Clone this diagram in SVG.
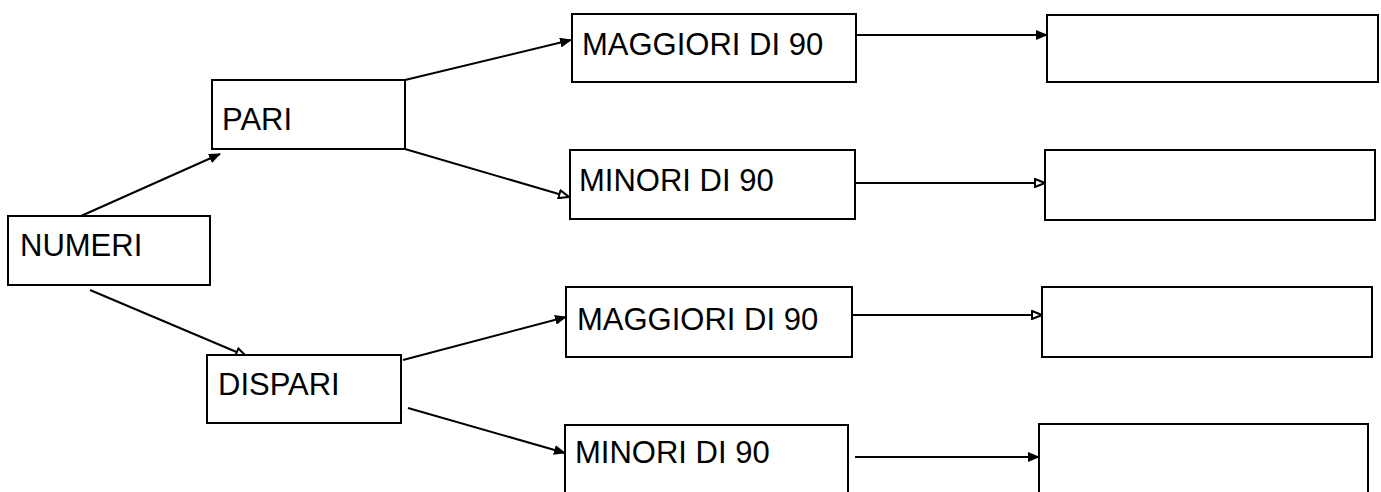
<svg xmlns="http://www.w3.org/2000/svg" width="1381" height="492" viewBox="0 0 1381 492">
<style>
.box{fill:#fff;stroke:#000;stroke-width:2}
.lbl{font-family:"Liberation Sans",Arial,sans-serif;font-size:31px;fill:#000}
.edge{fill:none;stroke:#000;stroke-width:2}
.f{marker-end:url(#af)}
.o{marker-end:url(#ao)}
</style>
<defs>
<marker id="af" viewBox="0 0 12 10" refX="11" refY="5" markerWidth="12" markerHeight="10" markerUnits="userSpaceOnUse" orient="auto">
<path d="M0,0 L12,5 L0,10 z" fill="#000"/>
</marker>
<marker id="ao" viewBox="0 0 12 10" refX="11" refY="5" markerWidth="12" markerHeight="10" markerUnits="userSpaceOnUse" orient="auto">
<path d="M1,1 L11,5 L1,9 z" fill="#fff" stroke="#000" stroke-width="2"/>
</marker>
</defs>
<rect width="1381" height="492" fill="#fff"/>
<g id="connectors">
<line class="edge f" x1="72" y1="220" x2="220" y2="154"/>
<line class="edge o" x1="90" y1="290" x2="246" y2="356"/>
<line class="edge f" x1="405" y1="80" x2="571" y2="40"/>
<line class="edge o" x1="405" y1="149" x2="569" y2="197"/>
<line class="edge f" x1="856" y1="35" x2="1047" y2="35"/>
<line class="edge o" x1="855" y1="183" x2="1045" y2="183"/>
<line class="edge f" x1="403" y1="360" x2="566" y2="317"/>
<line class="edge f" x1="408" y1="408" x2="565" y2="453"/>
<line class="edge o" x1="852" y1="315" x2="1042" y2="315"/>
<line class="edge f" x1="855" y1="457" x2="1039" y2="457"/>
</g>
<g id="node-numeri"><rect class="box" x="8" y="216" width="202" height="69"/><text class="lbl" x="20" y="256">NUMERI</text></g>
<g id="node-pari"><rect class="box" x="212" y="80" width="193" height="69"/><text class="lbl" x="222" y="130">PARI</text></g>
<g id="node-dispari"><rect class="box" x="207" y="355" width="194" height="68"/><text class="lbl" x="218" y="395">DISPARI</text></g>
<g id="node-pari-maggiori"><rect class="box" x="572" y="14" width="284" height="68"/><text class="lbl" x="582" y="55">MAGGIORI DI 90</text></g>
<g id="node-pari-minori"><rect class="box" x="570" y="150" width="285" height="69"/><text class="lbl" x="579" y="191">MINORI DI 90</text></g>
<g id="node-dispari-maggiori"><rect class="box" x="566" y="287" width="286" height="70"/><text class="lbl" x="577" y="330">MAGGIORI DI 90</text></g>
<g id="node-dispari-minori"><rect class="box" x="565" y="425" width="283" height="80"/><text class="lbl" x="575" y="463">MINORI DI 90</text></g>
<g id="node-pari-maggiori-out"><rect class="box" x="1047" y="15" width="331" height="67"/></g>
<g id="node-pari-minori-out"><rect class="box" x="1045" y="150" width="330" height="70"/></g>
<g id="node-dispari-maggiori-out"><rect class="box" x="1042" y="287" width="330" height="70"/></g>
<g id="node-dispari-minori-out"><rect class="box" x="1039" y="424" width="329" height="80"/></g>
</svg>
